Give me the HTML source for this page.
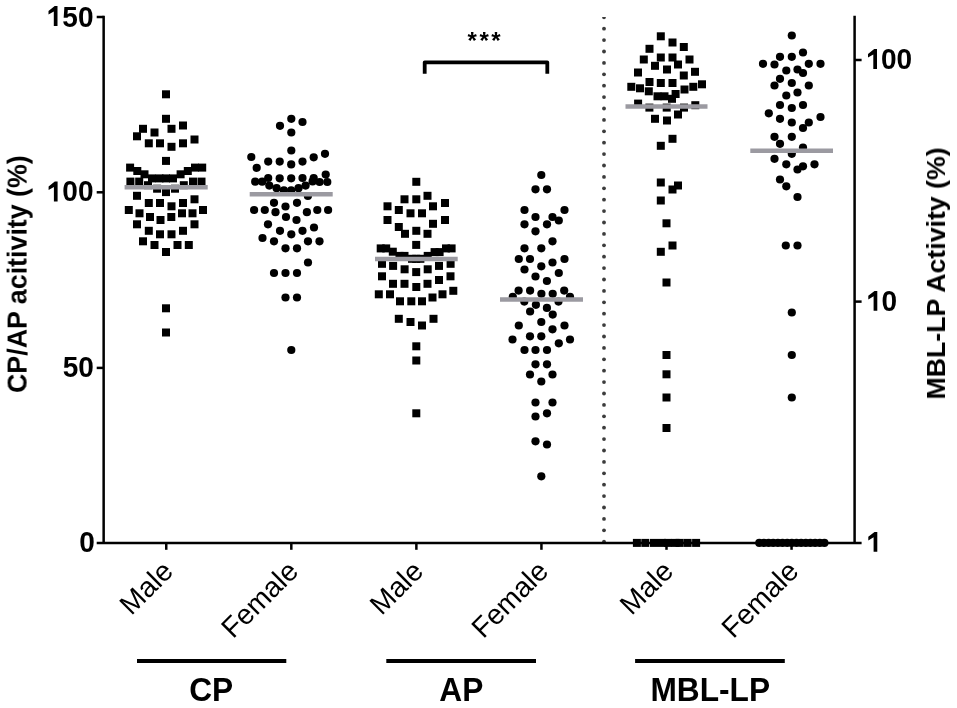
<!DOCTYPE html>
<html><head><meta charset="utf-8"><title>Chart</title>
<style>html,body{margin:0;padding:0;background:#fff;width:957px;height:708px;overflow:hidden}svg{display:block;filter:blur(0.4px)}.gs{filter:grayscale(1)}</style>
</head><body>
<svg width="957" height="708" viewBox="0 0 957 708">
<rect width="957" height="708" fill="#fff"/>
<g fill="#3c3c3c" clip-path="url(#plotclip)"><circle cx="604" cy="17.3" r="1.9"/><circle cx="604" cy="28.7" r="1.9"/><circle cx="604" cy="40.1" r="1.9"/><circle cx="604" cy="51.5" r="1.9"/><circle cx="604" cy="62.9" r="1.9"/><circle cx="604" cy="74.3" r="1.9"/><circle cx="604" cy="85.7" r="1.9"/><circle cx="604" cy="97.1" r="1.9"/><circle cx="604" cy="108.5" r="1.9"/><circle cx="604" cy="119.9" r="1.9"/><circle cx="604" cy="131.3" r="1.9"/><circle cx="604" cy="142.7" r="1.9"/><circle cx="604" cy="154.1" r="1.9"/><circle cx="604" cy="165.5" r="1.9"/><circle cx="604" cy="176.9" r="1.9"/><circle cx="604" cy="188.3" r="1.9"/><circle cx="604" cy="199.7" r="1.9"/><circle cx="604" cy="211.1" r="1.9"/><circle cx="604" cy="222.5" r="1.9"/><circle cx="604" cy="233.9" r="1.9"/><circle cx="604" cy="245.3" r="1.9"/><circle cx="604" cy="256.7" r="1.9"/><circle cx="604" cy="268.1" r="1.9"/><circle cx="604" cy="279.5" r="1.9"/><circle cx="604" cy="290.9" r="1.9"/><circle cx="604" cy="302.3" r="1.9"/><circle cx="604" cy="313.7" r="1.9"/><circle cx="604" cy="325.1" r="1.9"/><circle cx="604" cy="336.5" r="1.9"/><circle cx="604" cy="347.9" r="1.9"/><circle cx="604" cy="359.3" r="1.9"/><circle cx="604" cy="370.7" r="1.9"/><circle cx="604" cy="382.1" r="1.9"/><circle cx="604" cy="393.5" r="1.9"/><circle cx="604" cy="404.9" r="1.9"/><circle cx="604" cy="416.3" r="1.9"/><circle cx="604" cy="427.7" r="1.9"/><circle cx="604" cy="439.1" r="1.9"/><circle cx="604" cy="450.5" r="1.9"/><circle cx="604" cy="461.9" r="1.9"/><circle cx="604" cy="473.3" r="1.9"/><circle cx="604" cy="484.7" r="1.9"/><circle cx="604" cy="496.1" r="1.9"/><circle cx="604" cy="507.5" r="1.9"/><circle cx="604" cy="518.9" r="1.9"/><circle cx="604" cy="530.3" r="1.9"/><circle cx="604" cy="541.7" r="1.9"/></g>
<defs><clipPath id="plotclip"><rect x="0" y="16.9" width="957" height="600"/></clipPath></defs>
<g fill="#000">
<rect x="162.0" y="90.3" width="8.0" height="8.0"/><rect x="162.0" y="114.8" width="8.0" height="8.0"/><rect x="139.0" y="124.8" width="8.0" height="8.0"/><rect x="167.5" y="124.8" width="8.0" height="8.0"/><rect x="179.0" y="121.5" width="8.0" height="8.0"/><rect x="150.5" y="128.5" width="8.0" height="8.0"/><rect x="133.0" y="132.3" width="8.0" height="8.0"/><rect x="190.5" y="135.5" width="8.0" height="8.0"/><rect x="144.8" y="139.3" width="8.0" height="8.0"/><rect x="156.0" y="139.3" width="8.0" height="8.0"/><rect x="167.5" y="142.8" width="8.0" height="8.0"/><rect x="179.0" y="139.3" width="8.0" height="8.0"/><rect x="162.0" y="156.9" width="8.0" height="8.0"/><rect x="126.1" y="163.6" width="8.0" height="8.0"/><rect x="133.3" y="167.0" width="8.0" height="8.0"/><rect x="140.5" y="170.3" width="8.0" height="8.0"/><rect x="148.0" y="174.4" width="8.0" height="8.0"/><rect x="155.5" y="174.4" width="8.0" height="8.0"/><rect x="162.0" y="174.4" width="8.0" height="8.0"/><rect x="169.0" y="174.4" width="8.0" height="8.0"/><rect x="176.6" y="170.3" width="8.0" height="8.0"/><rect x="183.8" y="167.0" width="8.0" height="8.0"/><rect x="191.0" y="163.6" width="8.0" height="8.0"/><rect x="198.2" y="163.6" width="8.0" height="8.0"/><rect x="126.4" y="177.6" width="8.0" height="8.0"/><rect x="135.2" y="177.6" width="8.0" height="8.0"/><rect x="144.0" y="181.2" width="8.0" height="8.0"/><rect x="179.8" y="181.2" width="8.0" height="8.0"/><rect x="189.0" y="177.6" width="8.0" height="8.0"/><rect x="197.5" y="177.6" width="8.0" height="8.0"/><rect x="153.1" y="184.7" width="8.0" height="8.0"/><rect x="162.0" y="188.1" width="8.0" height="8.0"/><rect x="171.0" y="184.7" width="8.0" height="8.0"/><rect x="133.0" y="191.8" width="8.0" height="8.0"/><rect x="144.8" y="199.0" width="8.0" height="8.0"/><rect x="156.0" y="199.0" width="8.0" height="8.0"/><rect x="167.5" y="202.3" width="8.0" height="8.0"/><rect x="179.0" y="199.0" width="8.0" height="8.0"/><rect x="190.5" y="195.3" width="8.0" height="8.0"/><rect x="124.8" y="206.0" width="8.0" height="8.0"/><rect x="135.5" y="209.3" width="8.0" height="8.0"/><rect x="146.0" y="213.0" width="8.0" height="8.0"/><rect x="156.5" y="216.0" width="8.0" height="8.0"/><rect x="167.3" y="213.0" width="8.0" height="8.0"/><rect x="178.0" y="209.3" width="8.0" height="8.0"/><rect x="188.5" y="209.3" width="8.0" height="8.0"/><rect x="199.0" y="206.0" width="8.0" height="8.0"/><rect x="133.0" y="220.3" width="8.0" height="8.0"/><rect x="190.5" y="220.3" width="8.0" height="8.0"/><rect x="144.8" y="226.8" width="8.0" height="8.0"/><rect x="156.0" y="230.3" width="8.0" height="8.0"/><rect x="167.5" y="230.3" width="8.0" height="8.0"/><rect x="179.0" y="226.8" width="8.0" height="8.0"/><rect x="139.0" y="237.3" width="8.0" height="8.0"/><rect x="150.5" y="241.0" width="8.0" height="8.0"/><rect x="173.5" y="241.0" width="8.0" height="8.0"/><rect x="184.8" y="241.0" width="8.0" height="8.0"/><rect x="162.0" y="248.0" width="8.0" height="8.0"/><rect x="162.0" y="304.3" width="8.0" height="8.0"/><rect x="162.0" y="328.5" width="8.0" height="8.0"/>
<circle cx="291.3" cy="118.8" r="4.1"/><circle cx="280.0" cy="125.8" r="4.1"/><circle cx="302.5" cy="122.0" r="4.1"/><circle cx="291.3" cy="132.5" r="4.1"/><circle cx="291.3" cy="150.5" r="4.1"/><circle cx="256.7" cy="167.8" r="4.1"/><circle cx="268.2" cy="161.6" r="4.1"/><circle cx="279.7" cy="161.6" r="4.1"/><circle cx="291.2" cy="164.4" r="4.1"/><circle cx="302.5" cy="161.6" r="4.1"/><circle cx="313.7" cy="157.3" r="4.1"/><circle cx="325.0" cy="153.8" r="4.1"/><circle cx="251.3" cy="157.0" r="4.1"/><circle cx="255.2" cy="181.7" r="4.1"/><circle cx="262.2" cy="181.7" r="4.1"/><circle cx="268.2" cy="178.0" r="4.1"/><circle cx="279.7" cy="178.3" r="4.1"/><circle cx="291.2" cy="178.3" r="4.1"/><circle cx="302.5" cy="178.0" r="4.1"/><circle cx="313.7" cy="178.0" r="4.1"/><circle cx="325.7" cy="174.6" r="4.1"/><circle cx="269.3" cy="185.6" r="4.1"/><circle cx="276.6" cy="188.2" r="4.1"/><circle cx="283.9" cy="190.3" r="4.1"/><circle cx="291.2" cy="190.3" r="4.1"/><circle cx="298.5" cy="188.2" r="4.1"/><circle cx="305.6" cy="185.6" r="4.1"/><circle cx="312.6" cy="181.4" r="4.1"/><circle cx="319.6" cy="182.0" r="4.1"/><circle cx="327.3" cy="182.0" r="4.1"/><circle cx="307.9" cy="196.0" r="4.1"/><circle cx="274.0" cy="202.8" r="4.1"/><circle cx="285.5" cy="206.5" r="4.1"/><circle cx="297.0" cy="202.8" r="4.1"/><circle cx="254.1" cy="210.0" r="4.1"/><circle cx="264.8" cy="210.0" r="4.1"/><circle cx="275.5" cy="212.2" r="4.1"/><circle cx="286.0" cy="217.0" r="4.1"/><circle cx="296.5" cy="220.0" r="4.1"/><circle cx="306.9" cy="212.2" r="4.1"/><circle cx="317.3" cy="210.0" r="4.1"/><circle cx="328.1" cy="210.0" r="4.1"/><circle cx="268.0" cy="224.3" r="4.1"/><circle cx="280.0" cy="230.8" r="4.1"/><circle cx="291.3" cy="234.3" r="4.1"/><circle cx="302.5" cy="230.8" r="4.1"/><circle cx="314.0" cy="227.5" r="4.1"/><circle cx="262.5" cy="238.0" r="4.1"/><circle cx="274.0" cy="241.3" r="4.1"/><circle cx="285.5" cy="248.3" r="4.1"/><circle cx="297.0" cy="248.3" r="4.1"/><circle cx="308.0" cy="241.3" r="4.1"/><circle cx="319.5" cy="241.3" r="4.1"/><circle cx="308.0" cy="262.5" r="4.1"/><circle cx="274.0" cy="273.0" r="4.1"/><circle cx="285.5" cy="273.0" r="4.1"/><circle cx="297.0" cy="273.0" r="4.1"/><circle cx="285.5" cy="297.5" r="4.1"/><circle cx="297.0" cy="297.5" r="4.1"/><circle cx="291.3" cy="350.0" r="4.1"/>
<rect x="412.3" y="177.8" width="8.0" height="8.0"/><rect x="400.5" y="195.3" width="8.0" height="8.0"/><rect x="412.3" y="195.3" width="8.0" height="8.0"/><rect x="423.5" y="191.8" width="8.0" height="8.0"/><rect x="383.5" y="202.3" width="8.0" height="8.0"/><rect x="394.8" y="206.0" width="8.0" height="8.0"/><rect x="406.5" y="209.3" width="8.0" height="8.0"/><rect x="418.0" y="209.3" width="8.0" height="8.0"/><rect x="429.0" y="202.3" width="8.0" height="8.0"/><rect x="441.0" y="199.0" width="8.0" height="8.0"/><rect x="383.5" y="216.0" width="8.0" height="8.0"/><rect x="394.8" y="223.0" width="8.0" height="8.0"/><rect x="401.0" y="229.8" width="8.0" height="8.0"/><rect x="412.3" y="226.8" width="8.0" height="8.0"/><rect x="423.5" y="229.8" width="8.0" height="8.0"/><rect x="429.0" y="219.8" width="8.0" height="8.0"/><rect x="441.0" y="216.0" width="8.0" height="8.0"/><rect x="412.2" y="240.9" width="8.0" height="8.0"/><rect x="376.7" y="244.4" width="8.0" height="8.0"/><rect x="382.2" y="244.4" width="8.0" height="8.0"/><rect x="388.8" y="247.7" width="8.0" height="8.0"/><rect x="395.5" y="251.9" width="8.0" height="8.0"/><rect x="400.5" y="251.9" width="8.0" height="8.0"/><rect x="408.0" y="254.8" width="8.0" height="8.0"/><rect x="412.2" y="254.8" width="8.0" height="8.0"/><rect x="416.4" y="254.8" width="8.0" height="8.0"/><rect x="423.7" y="251.9" width="8.0" height="8.0"/><rect x="430.6" y="248.1" width="8.0" height="8.0"/><rect x="435.6" y="248.1" width="8.0" height="8.0"/><rect x="442.0" y="244.4" width="8.0" height="8.0"/><rect x="447.6" y="244.4" width="8.0" height="8.0"/><rect x="378.0" y="259.8" width="8.0" height="8.0"/><rect x="389.1" y="261.9" width="8.0" height="8.0"/><rect x="400.6" y="265.3" width="8.0" height="8.0"/><rect x="412.2" y="268.1" width="8.0" height="8.0"/><rect x="423.7" y="265.3" width="8.0" height="8.0"/><rect x="435.0" y="261.9" width="8.0" height="8.0"/><rect x="446.6" y="259.8" width="8.0" height="8.0"/><rect x="378.0" y="272.3" width="8.0" height="8.0"/><rect x="389.0" y="279.8" width="8.0" height="8.0"/><rect x="400.5" y="279.8" width="8.0" height="8.0"/><rect x="412.3" y="283.0" width="8.0" height="8.0"/><rect x="423.5" y="279.8" width="8.0" height="8.0"/><rect x="435.0" y="276.0" width="8.0" height="8.0"/><rect x="446.5" y="272.3" width="8.0" height="8.0"/><rect x="374.8" y="290.3" width="8.0" height="8.0"/><rect x="386.0" y="290.3" width="8.0" height="8.0"/><rect x="396.0" y="297.3" width="8.0" height="8.0"/><rect x="407.3" y="297.3" width="8.0" height="8.0"/><rect x="418.0" y="297.3" width="8.0" height="8.0"/><rect x="428.5" y="293.5" width="8.0" height="8.0"/><rect x="438.5" y="290.3" width="8.0" height="8.0"/><rect x="449.3" y="286.8" width="8.0" height="8.0"/><rect x="394.8" y="314.8" width="8.0" height="8.0"/><rect x="406.5" y="318.0" width="8.0" height="8.0"/><rect x="418.0" y="321.5" width="8.0" height="8.0"/><rect x="429.5" y="314.8" width="8.0" height="8.0"/><rect x="412.3" y="342.3" width="8.0" height="8.0"/><rect x="412.3" y="356.5" width="8.0" height="8.0"/><rect x="412.3" y="409.3" width="8.0" height="8.0"/>
<circle cx="541.3" cy="175.0" r="4.1"/><circle cx="535.5" cy="189.3" r="4.1"/><circle cx="547.0" cy="189.3" r="4.1"/><circle cx="524.5" cy="210.0" r="4.1"/><circle cx="564.5" cy="210.0" r="4.1"/><circle cx="535.5" cy="217.0" r="4.1"/><circle cx="552.5" cy="217.0" r="4.1"/><circle cx="558.8" cy="220.5" r="4.1"/><circle cx="524.5" cy="224.3" r="4.1"/><circle cx="547.0" cy="224.3" r="4.1"/><circle cx="535.5" cy="231.3" r="4.1"/><circle cx="552.5" cy="241.3" r="4.1"/><circle cx="524.5" cy="248.3" r="4.1"/><circle cx="541.3" cy="248.3" r="4.1"/><circle cx="518.8" cy="259.0" r="4.1"/><circle cx="530.0" cy="259.0" r="4.1"/><circle cx="552.5" cy="262.5" r="4.1"/><circle cx="564.5" cy="259.0" r="4.1"/><circle cx="541.3" cy="266.3" r="4.1"/><circle cx="524.5" cy="269.5" r="4.1"/><circle cx="558.8" cy="273.0" r="4.1"/><circle cx="535.5" cy="276.5" r="4.1"/><circle cx="546.9" cy="281.0" r="4.1"/><circle cx="518.6" cy="290.6" r="4.1"/><circle cx="530.1" cy="290.6" r="4.1"/><circle cx="541.4" cy="293.8" r="4.1"/><circle cx="552.7" cy="293.8" r="4.1"/><circle cx="564.2" cy="290.6" r="4.1"/><circle cx="512.8" cy="296.8" r="4.1"/><circle cx="570.0" cy="296.8" r="4.1"/><circle cx="524.3" cy="301.6" r="4.1"/><circle cx="558.5" cy="301.6" r="4.1"/><circle cx="535.9" cy="304.8" r="4.1"/><circle cx="546.9" cy="307.9" r="4.1"/><circle cx="530.1" cy="311.5" r="4.1"/><circle cx="552.7" cy="314.6" r="4.1"/><circle cx="541.3" cy="322.0" r="4.1"/><circle cx="518.8" cy="325.5" r="4.1"/><circle cx="564.5" cy="325.5" r="4.1"/><circle cx="552.5" cy="329.3" r="4.1"/><circle cx="512.5" cy="339.5" r="4.1"/><circle cx="530.0" cy="336.3" r="4.1"/><circle cx="541.3" cy="336.3" r="4.1"/><circle cx="558.8" cy="343.3" r="4.1"/><circle cx="570.0" cy="339.5" r="4.1"/><circle cx="524.5" cy="350.0" r="4.1"/><circle cx="535.5" cy="350.0" r="4.1"/><circle cx="547.0" cy="350.0" r="4.1"/><circle cx="535.5" cy="364.3" r="4.1"/><circle cx="547.0" cy="364.3" r="4.1"/><circle cx="530.0" cy="374.5" r="4.1"/><circle cx="552.5" cy="374.5" r="4.1"/><circle cx="541.3" cy="381.5" r="4.1"/><circle cx="535.5" cy="402.5" r="4.1"/><circle cx="552.5" cy="402.5" r="4.1"/><circle cx="535.5" cy="416.5" r="4.1"/><circle cx="547.0" cy="413.3" r="4.1"/><circle cx="535.5" cy="441.3" r="4.1"/><circle cx="547.0" cy="444.5" r="4.1"/><circle cx="541.3" cy="476.3" r="4.1"/>
<rect x="656.8" y="32.3" width="8.0" height="8.0"/><rect x="668.5" y="38.5" width="8.0" height="8.0"/><rect x="645.5" y="44.8" width="8.0" height="8.0"/><rect x="679.8" y="43.0" width="8.0" height="8.0"/><rect x="639.8" y="55.5" width="8.0" height="8.0"/><rect x="656.8" y="53.5" width="8.0" height="8.0"/><rect x="668.5" y="53.5" width="8.0" height="8.0"/><rect x="685.5" y="55.5" width="8.0" height="8.0"/><rect x="651.0" y="61.8" width="8.0" height="8.0"/><rect x="674.0" y="60.5" width="8.0" height="8.0"/><rect x="663.0" y="65.5" width="8.0" height="8.0"/><rect x="634.0" y="68.5" width="8.0" height="8.0"/><rect x="691.0" y="67.8" width="8.0" height="8.0"/><rect x="679.8" y="71.5" width="8.0" height="8.0"/><rect x="645.5" y="78.0" width="8.0" height="8.0"/><rect x="656.8" y="79.0" width="8.0" height="8.0"/><rect x="668.5" y="79.0" width="8.0" height="8.0"/><rect x="627.3" y="82.8" width="8.0" height="8.0"/><rect x="636.0" y="84.3" width="8.0" height="8.0"/><rect x="698.0" y="80.3" width="8.0" height="8.0"/><rect x="689.3" y="82.8" width="8.0" height="8.0"/><rect x="680.5" y="85.5" width="8.0" height="8.0"/><rect x="644.8" y="87.3" width="8.0" height="8.0"/><rect x="653.5" y="92.3" width="8.0" height="8.0"/><rect x="660.5" y="92.3" width="8.0" height="8.0"/><rect x="668.0" y="94.8" width="8.0" height="8.0"/><rect x="671.6" y="90.0" width="8.0" height="8.0"/><rect x="634.1" y="99.6" width="8.0" height="8.0"/><rect x="691.3" y="101.2" width="8.0" height="8.0"/><rect x="645.4" y="103.6" width="8.0" height="8.0"/><rect x="662.7" y="103.6" width="8.0" height="8.0"/><rect x="680.0" y="103.6" width="8.0" height="8.0"/><rect x="651.0" y="114.8" width="8.0" height="8.0"/><rect x="663.0" y="116.5" width="8.0" height="8.0"/><rect x="674.0" y="110.5" width="8.0" height="8.0"/><rect x="668.5" y="134.8" width="8.0" height="8.0"/><rect x="656.8" y="141.8" width="8.0" height="8.0"/><rect x="656.8" y="178.5" width="8.0" height="8.0"/><rect x="674.0" y="181.5" width="8.0" height="8.0"/><rect x="668.5" y="185.5" width="8.0" height="8.0"/><rect x="656.8" y="196.5" width="8.0" height="8.0"/><rect x="662.5" y="219.3" width="8.0" height="8.0"/><rect x="668.5" y="241.5" width="8.0" height="8.0"/><rect x="656.8" y="247.8" width="8.0" height="8.0"/><rect x="662.5" y="278.5" width="8.0" height="8.0"/><rect x="662.5" y="351.0" width="8.0" height="8.0"/><rect x="662.5" y="370.3" width="8.0" height="8.0"/><rect x="662.5" y="393.5" width="8.0" height="8.0"/><rect x="662.5" y="424.0" width="8.0" height="8.0"/><rect x="632.9" y="538.9" width="8.0" height="8.0"/><rect x="641.3" y="538.9" width="8.0" height="8.0"/><rect x="650.0" y="538.9" width="8.0" height="8.0"/><rect x="658.0" y="538.9" width="8.0" height="8.0"/><rect x="664.0" y="538.9" width="8.0" height="8.0"/><rect x="671.5" y="538.9" width="8.0" height="8.0"/><rect x="675.6" y="538.9" width="8.0" height="8.0"/><rect x="683.6" y="538.9" width="8.0" height="8.0"/><rect x="692.1" y="538.9" width="8.0" height="8.0"/>
<circle cx="791.8" cy="35.5" r="4.1"/><circle cx="780.0" cy="56.8" r="4.1"/><circle cx="791.8" cy="56.8" r="4.1"/><circle cx="803.0" cy="52.5" r="4.1"/><circle cx="763.0" cy="63.8" r="4.1"/><circle cx="774.5" cy="64.5" r="4.1"/><circle cx="808.8" cy="63.8" r="4.1"/><circle cx="820.5" cy="63.8" r="4.1"/><circle cx="786.3" cy="70.5" r="4.1"/><circle cx="797.5" cy="69.5" r="4.1"/><circle cx="803.0" cy="73.0" r="4.1"/><circle cx="780.0" cy="78.8" r="4.1"/><circle cx="774.5" cy="85.5" r="4.1"/><circle cx="791.8" cy="83.0" r="4.1"/><circle cx="808.8" cy="85.5" r="4.1"/><circle cx="786.3" cy="95.5" r="4.1"/><circle cx="797.5" cy="92.5" r="4.1"/><circle cx="780.0" cy="105.0" r="4.1"/><circle cx="791.8" cy="108.0" r="4.1"/><circle cx="803.0" cy="105.0" r="4.1"/><circle cx="768.8" cy="113.3" r="4.1"/><circle cx="780.0" cy="118.8" r="4.1"/><circle cx="791.8" cy="122.5" r="4.1"/><circle cx="808.8" cy="122.5" r="4.1"/><circle cx="820.5" cy="117.0" r="4.1"/><circle cx="803.0" cy="128.0" r="4.1"/><circle cx="774.5" cy="136.8" r="4.1"/><circle cx="791.8" cy="136.8" r="4.1"/><circle cx="780.0" cy="143.8" r="4.1"/><circle cx="803.0" cy="147.5" r="4.1"/><circle cx="791.8" cy="153.8" r="4.1"/><circle cx="774.5" cy="158.8" r="4.1"/><circle cx="786.3" cy="164.3" r="4.1"/><circle cx="803.0" cy="166.3" r="4.1"/><circle cx="797.5" cy="169.5" r="4.1"/><circle cx="814.5" cy="164.3" r="4.1"/><circle cx="780.0" cy="179.5" r="4.1"/><circle cx="786.3" cy="186.3" r="4.1"/><circle cx="797.5" cy="197.0" r="4.1"/><circle cx="785.8" cy="245.5" r="4.1"/><circle cx="797.5" cy="245.5" r="4.1"/><circle cx="791.8" cy="312.5" r="4.1"/><circle cx="791.8" cy="355.0" r="4.1"/><circle cx="791.8" cy="397.5" r="4.1"/><circle cx="759.3" cy="542.9" r="4.1"/><circle cx="763.9" cy="542.9" r="4.1"/><circle cx="768.6" cy="542.9" r="4.1"/><circle cx="773.2" cy="542.9" r="4.1"/><circle cx="777.9" cy="542.9" r="4.1"/><circle cx="782.5" cy="542.9" r="4.1"/><circle cx="787.2" cy="542.9" r="4.1"/><circle cx="791.8" cy="542.9" r="4.1"/><circle cx="796.5" cy="542.9" r="4.1"/><circle cx="801.1" cy="542.9" r="4.1"/><circle cx="805.8" cy="542.9" r="4.1"/><circle cx="810.4" cy="542.9" r="4.1"/><circle cx="815.1" cy="542.9" r="4.1"/><circle cx="819.8" cy="542.9" r="4.1"/><circle cx="824.4" cy="542.9" r="4.1"/>
</g>
<g stroke="#9b9aa1" stroke-width="4.5">
<line x1="124.6" y1="187.3" x2="207.7" y2="187.3"/>
<line x1="249.7" y1="194.2" x2="332.7" y2="194.2"/>
<line x1="375" y1="258.9" x2="457.7" y2="258.9"/>
<line x1="500" y1="299.4" x2="583" y2="299.4"/>
<line x1="625.5" y1="106.5" x2="707.5" y2="106.5"/>
<line x1="750.3" y1="150.7" x2="833" y2="150.7"/>
</g>
<g stroke="#000" stroke-width="2.5" fill="none" stroke-linecap="butt">
<path d="M103.65 15.8 V543.0 M96.7 543.0 H861.6 M854.6 15.8 V543.0"/>
<line x1="96.7" y1="17.0" x2="103.65" y2="17.0"/>
<line x1="96.7" y1="192.3" x2="103.65" y2="192.3"/>
<line x1="96.7" y1="367.9" x2="103.65" y2="367.9"/>
<line x1="854.6" y1="60.0" x2="861.6" y2="60.0"/>
<line x1="854.6" y1="301.6" x2="861.6" y2="301.6"/>
<line x1="166.25" y1="543.0" x2="166.25" y2="549.8"/>
<line x1="291.31" y1="543.0" x2="291.31" y2="549.8"/>
<line x1="416.37" y1="543.0" x2="416.37" y2="549.8"/>
<line x1="541.43" y1="543.0" x2="541.43" y2="549.8"/>
<line x1="666.49" y1="543.0" x2="666.49" y2="549.8"/>
<line x1="791.55" y1="543.0" x2="791.55" y2="549.8"/>
</g>
<path d="M424.7 73.7 V62.3 H547.3 V73.7" stroke="#000" stroke-width="3.8" fill="none" stroke-linejoin="round"/>
<g stroke="#000" stroke-width="4">
<line x1="137" y1="660.9" x2="286.3" y2="660.9"/>
<line x1="386.3" y1="660.9" x2="536" y2="660.9"/>
<line x1="635.1" y1="660.9" x2="784.8" y2="660.9"/>
</g>
<g class="gs" font-family="Liberation Sans, sans-serif" font-weight="bold" fill="#000">
<text transform="translate(93.5,26.6) scale(0.95,1)" font-size="29.5" text-anchor="end">50</text>
<text transform="translate(93.5,201.4) scale(0.95,1)" font-size="29.5" text-anchor="end">00</text>
<text transform="translate(93.8,377.0) scale(0.95,1)" font-size="29.5" text-anchor="end">50</text>
<text transform="translate(94.8,552.4) scale(0.95,1)" font-size="29.5" text-anchor="end">0</text>
<path d="M54.70,6.10 L57.50,6.10 L57.50,25.90 L53.80,25.90 L53.80,11.50 L48.50,14.60 L48.50,10.90 Z"/>
<path d="M54.80,181.60 L57.60,181.60 L57.60,201.40 L53.90,201.40 L53.90,187.00 L48.60,190.10 L48.60,186.40 Z"/>
<text transform="translate(912.2,68.8) scale(0.95,1)" font-size="29.5" text-anchor="end">00</text>
<text transform="translate(897.2,310.5) scale(0.95,1)" font-size="29.5" text-anchor="end">0</text>
<path d="M874.20,49.10 L877.00,49.10 L877.00,68.90 L873.30,68.90 L873.30,54.50 L868.00,57.60 L868.00,53.90 Z"/>
<path d="M874.50,290.90 L877.30,290.90 L877.30,310.70 L873.60,310.70 L873.60,296.30 L868.30,299.40 L868.30,295.70 Z"/>
<path d="M874.50,531.90 L877.30,531.90 L877.30,551.70 L873.60,551.70 L873.60,537.30 L868.30,540.40 L868.30,536.70 Z"/>
<text x="467.6" y="49.2" font-size="24" letter-spacing="2.5">***</text>
<text transform="translate(211.2,701.3) scale(0.96,1)" font-size="33" text-anchor="middle">CP</text>
<text transform="translate(461.3,701.3) scale(0.96,1)" font-size="33" text-anchor="middle">AP</text>
<text transform="translate(710.2,701.3) scale(0.96,1)" font-size="33" text-anchor="middle">MBL-LP</text>
<text transform="translate(26.6,393) rotate(-90)" font-size="26.8">CP/AP acitivity (%)</text>
<text transform="translate(945,399.5) rotate(-90)" font-size="26.7">MBL-LP Activity (%)</text>
</g>
<g class="gs" font-family="Liberation Sans, sans-serif" font-size="28.3" fill="#000">
<text transform="translate(174.75,572.8) rotate(-45)" text-anchor="end">Male</text>
<text transform="translate(299.81,572.8) rotate(-45)" text-anchor="end">Female</text>
<text transform="translate(424.87,572.8) rotate(-45)" text-anchor="end">Male</text>
<text transform="translate(549.93,572.8) rotate(-45)" text-anchor="end">Female</text>
<text transform="translate(674.99,572.8) rotate(-45)" text-anchor="end">Male</text>
<text transform="translate(800.05,572.8) rotate(-45)" text-anchor="end">Female</text>
</g>
</svg>
</body></html>
